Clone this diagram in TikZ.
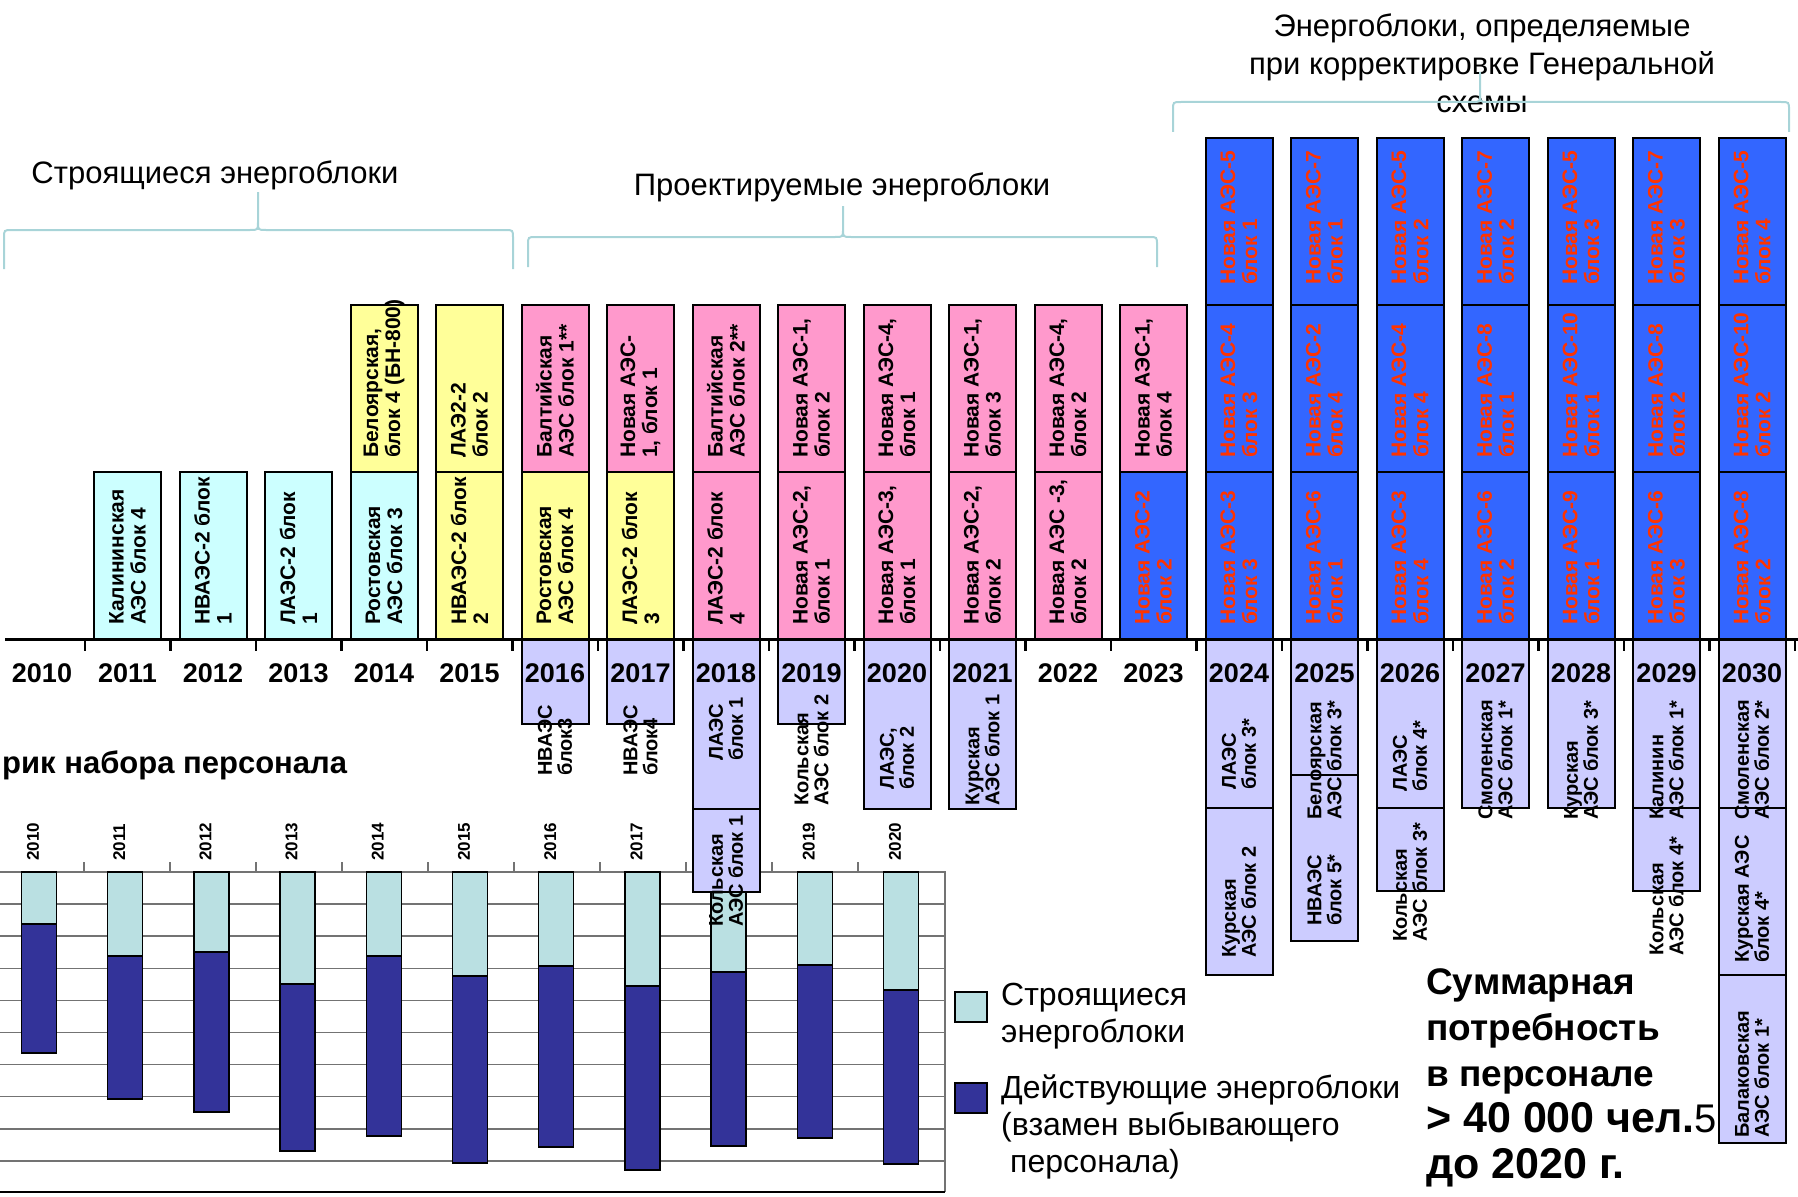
\documentclass[tikz,border=0pt]{standalone}
\usepackage{fontspec}
\setmainfont{Liberation Sans}
\definecolor{cyanblk}{HTML}{CCFFFF}
\definecolor{yelblk}{HTML}{FFFF99}
\definecolor{pinkblk}{HTML}{FF99CC}
\definecolor{blueblk}{HTML}{3366FF}
\definecolor{redtxt}{HTML}{FF3300}
\definecolor{lilblk}{HTML}{CCCCFF}
\definecolor{lightbar}{HTML}{BAE0E2}
\definecolor{darkbar}{HTML}{333399}
\definecolor{bracecol}{HTML}{A8D4D8}
\begin{document}
\begin{tikzpicture}[x=1pt, y=-1pt,
    blk/.style={draw=black, line width=2pt},
    blktxt/.style={rotate=90, anchor=west, align=left, inner sep=0pt, font=\fontsize{21}{22}\selectfont\bfseries},
    lowtxt/.style={rotate=90, anchor=west, align=left, inner sep=0pt, font=\fontsize{20}{20}\selectfont\bfseries},
    yrlbl/.style={font=\fontsize{27}{27}\selectfont\bfseries},
    hdr/.style={font=\fontsize{31}{38}\selectfont, align=center},
    legtxt/.style={anchor=west, align=left, inner sep=0pt, font=\fontsize{32}{37}\selectfont},
    brc/.style={draw=bracecol, line width=2pt},
    bar/.style={draw=black, line width=1.5pt},
    gridln/.style={draw=black!55, line width=1.5pt}]

    \useasboundingbox (0,0) rectangle (1798,1196);

    % График набора персонала
    \foreach \j in {1,...,9}
        \draw[gridln] (0,{872+32.1*\j}) -- (945,{872+32.1*\j});
    \foreach \k in {0,...,9}
        \draw[gridln] ({84+86*\k},862) -- ({84+86*\k},872);
    \draw[gridln] (0,872) -- (945,872) -- (945,1192);
    \draw[line width=2pt] (0,1192) -- (945,1192);

    \foreach \k/\ys/\ye in {0/924/1053, 1/956/1099, 2/952/1112, 3/984/1151,
        4/956/1136, 5/976/1163, 6/966/1147, 7/986/1170, 8/972/1146,
        9/965/1138, 10/990/1164}
    {
        \draw[bar, fill=lightbar] ({39+86.2*\k-17.5},872) rectangle ({39+86.2*\k+17.5},\ys);
        \draw[bar, fill=darkbar] ({39+86.2*\k-17.5},\ys) rectangle ({39+86.2*\k+17.5},\ye);
    }
    \foreach \k [evaluate=\k as \yr using int(2010+\k)] in {0,...,7,9,10}
        \node[rotate=90, anchor=west, inner sep=0pt, font=\fontsize{17}{17}\selectfont\bfseries] (cy\yr) at ({33+86.2*\k},861) {\yr};

    \node[anchor=west, inner sep=0pt, font=\fontsize{31}{31}\selectfont\bfseries] (charttitle) at (2,765) {рик набора персонала};

    % Легенда
    \draw[line width=2pt, fill=lightbar] (955,992) rectangle (987,1022);
    \node[legtxt] (leg1) at (1001,1016) {Строящиеся\\энергоблоки};
    \draw[line width=2pt, fill=darkbar] (955,1083) rectangle (987,1113);
    \node[legtxt] (leg2) at (1001,1127) {Действующие энергоблоки\\(взамен выбывающего\\\hspace*{9pt}персонала)};

    % Энергоблоки над осью
    \foreach \yr/\rw/\fil/\tc/\txt in {
        2011/1/cyanblk/black/{Калининская\\АЭС блок 4},
        2012/1/cyanblk/black/{НВАЭС-2 блок\\1},
        2013/1/cyanblk/black/{ЛАЭС-2 блок\\1},
        2014/1/cyanblk/black/{Ростовская\\АЭС блок 3},
        2015/1/yelblk/black/{НВАЭС-2 блок\\2},
        2016/1/yelblk/black/{Ростовская\\АЭС блок 4},
        2017/1/yelblk/black/{ЛАЭС-2 блок\\3},
        2018/1/pinkblk/black/{ЛАЭС-2 блок\\4},
        2019/1/pinkblk/black/{Новая АЭС-2,\\блок 1},
        2020/1/pinkblk/black/{Новая АЭС-3,\\блок 1},
        2021/1/pinkblk/black/{Новая АЭС-2,\\блок 2},
        2022/1/pinkblk/black/{Новая АЭС -3,\\блок 2},
        2023/1/blueblk/redtxt/{Новая АЭС-2\\блок 2},
        2024/1/blueblk/redtxt/{Новая АЭС-3\\блок 3},
        2025/1/blueblk/redtxt/{Новая АЭС-6\\блок 1},
        2026/1/blueblk/redtxt/{Новая АЭС-3\\блок 4},
        2027/1/blueblk/redtxt/{Новая АЭС-6\\блок 2},
        2028/1/blueblk/redtxt/{Новая АЭС-9\\блок 1},
        2029/1/blueblk/redtxt/{Новая АЭС-6\\блок 3},
        2030/1/blueblk/redtxt/{Новая АЭС-8\\блок 2},
        2014/2/yelblk/black/{Белоярская,\\блок 4 (БН-800)},
        2015/2/yelblk/black/{ЛАЭ2-2\\блок 2},
        2016/2/pinkblk/black/{Балтийская\\АЭС блок 1**},
        2017/2/pinkblk/black/{Новая АЭС-\\1,  блок 1},
        2018/2/pinkblk/black/{Балтийская\\АЭС блок 2**},
        2019/2/pinkblk/black/{Новая АЭС-1,\\блок 2},
        2020/2/pinkblk/black/{Новая  АЭС-4,\\блок 1},
        2021/2/pinkblk/black/{Новая АЭС-1,\\блок 3},
        2022/2/pinkblk/black/{Новая АЭС-4,\\блок 2},
        2023/2/pinkblk/black/{Новая АЭС-1,\\блок 4},
        2024/2/blueblk/redtxt/{Новая АЭС-4\\блок 3},
        2025/2/blueblk/redtxt/{Новая АЭС-2\\блок 4},
        2026/2/blueblk/redtxt/{Новая АЭС-4\\блок 4},
        2027/2/blueblk/redtxt/{Новая АЭС-8\\блок 1},
        2028/2/blueblk/redtxt/{Новая АЭС-10\\блок 1},
        2029/2/blueblk/redtxt/{Новая АЭС-8\\блок 2},
        2030/2/blueblk/redtxt/{Новая АЭС-10\\блок 2},
        2024/3/blueblk/redtxt/{Новая АЭС-5\\блок 1},
        2025/3/blueblk/redtxt/{Новая АЭС-7\\блок 1},
        2026/3/blueblk/redtxt/{Новая АЭС-5\\блок 2},
        2027/3/blueblk/redtxt/{Новая АЭС-7\\блок 2},
        2028/3/blueblk/redtxt/{Новая АЭС-5\\блок 3},
        2029/3/blueblk/redtxt/{Новая АЭС-7\\блок 3},
        2030/3/blueblk/redtxt/{Новая АЭС-5\\блок 4}}
    {
        \pgfmathsetmacro{\cx}{42+85.5*(\yr-2010)}
        \pgfmathsetmacro{\yb}{639-167*(\rw-1)}
        \pgfmathsetmacro{\gap}{\rw==3 ? 20 : 14}
        \draw[blk, fill=\fil] (\cx-33.5,\yb) rectangle (\cx+33.5,\yb-167);
        \node[blktxt, text=\tc] (u\yr-\rw) at (\cx,\yb-\gap) {\txt};
    }

    % Выбывающие энергоблоки под осью
    \def\lowblocks{
        2016/639/724/776/{НВАЭС\\блок3},
        2017/639/724/776/{НВАЭС\\блок4},
        2018/639/809/761/{ЛАЭС\\блок 1},
        2018/809/892/927/{Кольская\\АЭС блок 1},
        2019/639/724/806/{Кольская\\АЭС блок 2},
        2020/639/809/790/{ЛАЭС,\\блок 2},
        2021/639/809/806/{Курская\\АЭС блок 1},
        2024/639/808/790/{ЛАЭС\\блок 3*},
        2024/808/975/958/{Курская\\АЭС блок 2},
        2025/639/775/820/{Белоярская\\АЭС блок 3*},
        2025/775/941/926/{НВАЭС\\блок 5*},
        2026/639/808/792/{ЛАЭС\\блок 4*},
        2026/808/891/942/{Кольская\\АЭС блок 3*},
        2027/639/808/820/{Смоленская\\АЭС блок 1*},
        2028/639/808/820/{Курская\\АЭС блок 3*},
        2029/639/808/820/{Калинин\\АЭС блок 1*},
        2029/808/891/956/{Кольская\\АЭС блок 4*},
        2030/639/808/820/{Смоленская\\АЭС блок 2*},
        2030/808/975/963/{Курская АЭС\\блок 4*},
        2030/975/1143/1138/{Балаковская\\АЭС блок 1*}}
    % сначала прямоугольники, потом подписи поверх них
    \foreach \yr/\ytop/\ybot/\ytx/\txt [count=\i] in \lowblocks
        \draw[blk, fill=lilblk] ({42+85.5*(\yr-2010)-33.5},\ytop) rectangle ({42+85.5*(\yr-2010)+33.5},\ybot);
    \foreach \yr/\ytop/\ybot/\ytx/\txt [count=\i] in \lowblocks
        \node[lowtxt] (l\i) at ({42+85.5*(\yr-2010)},\ytx) {\txt};

    % Ось времени
    \draw[line width=3pt] (5,639) -- (1798,639);
    \foreach \k in {0,...,20}
        \draw[line width=2.5pt] ({85+85.5*\k},639) -- ({85+85.5*\k},651);
    \foreach \k [evaluate=\k as \yr using int(2010+\k)] in {0,...,20}
        \node[yrlbl] (y\yr) at ({42+85.5*\k},673) {\yr};

    % Заголовки и скобки
    \node[hdr] (hstroy) at (215,175) {Строящиеся энергоблоки};
    \node[hdr] (hproekt) at (842,187) {Проектируемые энергоблоки};
    \node[hdr] (hgen) at (1482,63) {Энергоблоки, определяемые\\при корректировке Генеральной\\схемы};

    \foreach \xa/\xm/\xb/\yt/\ytip/\ye in {4/258/513/230/192/269, 528/843/1157/237/206/267, 1173/1480/1789/102/72/132}
        \draw[brc] (\xa,\ye) -- (\xa,\yt+8) .. controls (\xa,\yt) .. (\xa+8,\yt) -- (\xm-8,\yt)
            .. controls (\xm,\yt) .. (\xm,\yt-8) -- (\xm,\ytip) -- (\xm,\yt-8)
            .. controls (\xm,\yt) .. (\xm+8,\yt) -- (\xb-8,\yt) .. controls (\xb,\yt) .. (\xb,\yt+8) -- (\xb,\ye);

    % Итог
    \node[anchor=north west, align=left, inner sep=0pt, font=\fontsize{37}{46}\selectfont\bfseries] (itog) at (1426,968)
        {Суммарная\\потребность\\в персонале\\{\fontsize{43}{46}\selectfont > 40 000 чел.}{\mdseries\fontsize{40}{40}\selectfont 5}\\{\fontsize{43}{46}\selectfont до 2020 г.}};
\end{tikzpicture}
\end{document}
